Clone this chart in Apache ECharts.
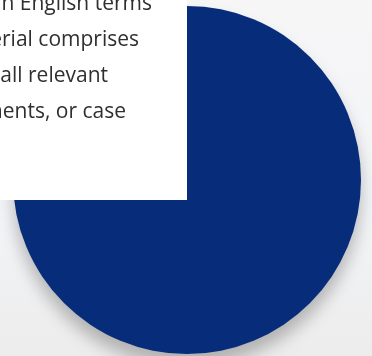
<!DOCTYPE html>
<html><head><meta charset="utf-8">
<script src="https://cdn.jsdelivr.net/npm/echarts@6/dist/echarts.min.js"></script>
<style>html,body{margin:0;padding:0;}#c{width:372px;height:356px;}</style>
</head><body><div id="c"></div>
<script>
const categories = ['Share'];
const values = [100];
const boxLines = ['in English terms', 'material comprises', 'all relevant', 'documents, or case'];
const lineEnds = [152, 139, 108, 126];

const chart = echarts.init(document.getElementById('c'), null, {renderer: 'canvas'});
const textEls = boxLines.map((t, i) => ({
  type: 'text', z: 101,
  style: {
    text: t, x: lineEnds[i], y: -6 + i * 36,
    align: 'right', verticalAlign: 'top',
    font: '21px "Open Sans", sans-serif', fill: '#2f2f2f'
  }
}));
chart.setOption({
  animation: false,
  backgroundColor: {
    type: 'linear', x: 0, y: 0, x2: 0, y2: 1,
    colorStops: [
      {offset: 0, color: '#f6f6f7'},
      {offset: 0.6, color: '#f3f4f7'},
      {offset: 1, color: '#ececec'}
    ]
  },
  series: [{
    type: 'pie',
    center: [187, 180],
    radius: [0, 174],
    startAngle: 90,
    label: {show: false},
    labelLine: {show: false},
    silent: true,
    itemStyle: {
      color: '#072c7a',
      shadowBlur: 16,
      shadowColor: 'rgba(0,0,0,0.25)',
      shadowOffsetY: 12
    },
    data: categories.map((c, i) => ({name: c, value: values[i]}))
  }],
  graphic: [
    {type: 'rect', z: 100, shape: {x: 0, y: 0, width: 187, height: 200}, style: {fill: '#ffffff'}},
    ...textEls
  ]
});
</script></body></html>
